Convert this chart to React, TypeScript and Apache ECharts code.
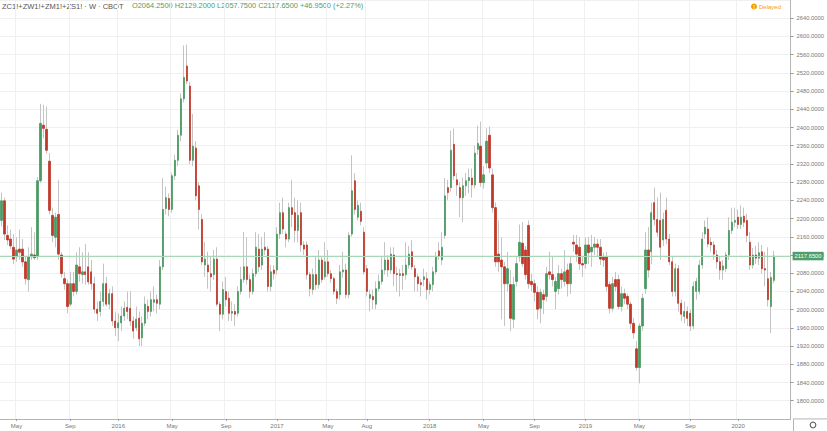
import React, { useEffect, useRef } from "react";
import * as echarts from "echarts";

// Weekly OHLC (first week: 2015-04-06)
const opens = [
  2196,2239,2163,2155,2137,2116,2133,2133,2105,2066,
  2116,2120,2116,2283,2405,2396,2326,2207,2159,2209,
  2120,2068,2057,2012,2057,2040,2094,2077,2083,2094,
  2083,2057,2001,1996,2018,2057,2012,2035,1975,1960,
  1971,1986,2005,2003,1975,1960,1981,1938,1970,2007,
  1996,2016,2022,2012,2094,2222,2244,2220,2294,2328,
  2383,2463,2535,2491,2328,2355,2272,2198,2098,2098,
  2079,2077,2111,2012,1990,2040,2025,1992,1996,1992,
  2040,2066,2094,2066,2040,2079,2133,2098,2137,2133,
  2051,2087,2087,2166,2213,2166,2155,2224,2213,2174,
  2213,2142,2142,2077,2044,2077,2055,2109,2072,2105,
  2079,2068,2040,2033,2083,2087,2033,2166,2283,2203,
  2216,2170,2090,2025,2029,2012,2046,2062,2087,2109,
  2087,2120,2079,2075,2079,2077,2098,2127,2090,
  2072,2059,2066,2068,2044,2055,2083,2129,2109,2163,
  2268,2268,2363,2285,2268,2246,2272,2283,2289,2274,
  2352,2359,2279,2322,2383,2296,2224,2122,2109,2094,
  2057,2055,1979,2062,2116,2146,2131,2185,2062,2057,
  2038,2003,2033,2029,2083,2077,2040,2046,2079,2062,
  2087,2057,2148,2142,2137,2101,2101,2142,2127,
  2137,2144,2137,2116,2116,2055,2003,2066,2066,
  2007,2035,2029,2012,1970,1914,1873,1964,2046,2131,
  2127,2235,2198,2196,2153,2218,2155,2105,2040,2090,
  2014,1985,1996,1992,1964,2040,2040,2098,2166,
  2177,2148,2142,2120,2105,2087,2090,2120,2174,
  2192,2203,2187,2205,2196,2148,2098,2120,2113,2127,
  2090,2068,2007,2064.25,
];
const highs = [
  2257,2246,2185,2176,2166,2159,2176,2155,2116,2137,
  2181,2170,2291,2452,2450,2446,2344,2224,2213,2285,
  2126,2083,2066,2083,2083,2126,2137,2126,2144,2126,
  2109,2072,2018,2040,2101,2072,2046,2051,1996,1992,
  2007,2018,2040,2040,1985,2007,1996,1985,2029,2022,
  2040,2051,2033,2109,2289,2270,2255,2300,2340,2395,
  2475,2580,2582,2500,2430,2370,2280,2210,2148,2127,
  2116,2131,2137,2018,2062,2072,2040,2018,2012,2051,
  2094,2170,2159,2077,2090,2170,2166,2159,2170,2140,
  2098,2098,2181,2235,2246,2172,2235,2285,2246,2240,
  2235,2150,2150,2083,2090,2116,2131,2116,2148,2131,
  2087,2072,2046,2098,2127,2101,2170,2339,2300,2240,
  2235,2181,2098,2044,2044,2062,2077,2116,2148,2120,
  2137,2137,2094,2090,2098,2148,2140,2153,2098,
  2079,2068,2090,2083,2062,2094,2127,2148,2170,2289,
  2285,2393,2398,2300,2280,2290,2300,2310,2310,2360,
  2404,2413,2315,2398,2402,2310,2235,2196,2159,2105,
  2127,2087,2072,2116,2187,2192,2140,2196,2079,2066,
  2051,2046,2044,2094,2127,2116,2072,2098,2090,2131,
  2101,2116,2164,2164,2159,2116,2159,2160,2164,
  2159,2155,2155,2125,2127,2062,2072,2083,2077,
  2051,2046,2035,2018,1981,1931,1970,2035,2170,2181,
  2235,2268,2246,2257,2213,2246,2166,2116,2101,2098,
  2022,2018,2007,2001,2062,2070,2109,2170,2196,
  2203,2159,2150,2131,2116,2109,2127,2203,2224,
  2224,2220,2229,2224,2211,2170,2135,2140,2148,2142,
  2127,2137,2083,2129.2,
];
const lows = [
  2183,2153,2142,2133,2100,2105,2109,2094,2055,2040,
  2109,2109,2109,2278,2376,2343,2209,2148,2137,2109,
  2070,2044,1992,2007,2029,2033,2061,2057,2055,2055,
  2044,1992,1975,1985,2007,2007,2001,1964,1942,1931,
  1953,1975,1979,1964,1936,1953,1920,1920,1964,1979,
  1985,1996,1992,2001,2087,2209,2205,2213,2285,2315,
  2370,2455,2495,2320,2315,2240,2176,2098,2072,2046,
  2040,2065,2007,1953,1979,2007,1975,1975,1964,1985,
  2033,2059,2055,2025,2033,2072,2083,2087,2120,2040,
  2040,2066,2077,2155,2166,2137,2148,2181,2148,2148,
  2127,2120,2066,2029,2033,2044,2046,2059,2066,2072,
  2059,2033,2012,2022,2070,2025,2025,2160,2209,2196,
  2185,2077,2029,1996,2001,2001,2040,2055,2077,2072,
  2079,2051,2040,2029,2044,2066,2090,2087,2040,
  2040,2029,2051,2022,2033,2040,2077,2109,2098,2155,
  2240,2259,2285,2250,2203,2192,2250,2255,2246,2266,
  2340,2270,2266,2310,2300,2213,2094,2083,1979,1964,
  2040,1953,1960,2051,2105,2094,2066,2046,2040,2018,
  1979,1970,1990,2018,2066,2051,2001,2033,2046,2051,
  2029,2035,2127,2105,2087,2072,2090,2100,2094,
  2120,2116,2098,2094,2040,1992,1996,2040,2001,
  1996,2012,2001,1957,1936,1866,1838,1953,2035,2070,
  2100,2185,2160,2109,2140,2144,2098,2029,2029,1996,
  1975,1970,1964,1953,1957,2022,2033,2090,2155,
  2137,2127,2109,2090,2066,2066,2083,2109,2166,
  2181,2177,2177,2181,2148,2087,2090,2100,2098,2079,
  2051,2007,1949,2057.75,
];
const closes = [
  2239,2166,2153,2140,2111,2131,2126,2105,2068,2116,
  2122,2114,2283,2409,2398,2350,2218,2163,2203,2122,
  2079,2057,2007,2057,2040,2098,2079,2083,2077,2061,
  2057,2001,1992,2018,2057,2012,2035,1975,1960,1971,
  1986,2003,1996,1975,1953,1979,1936,1970,2012,1996,
  2022,2022,2014,2094,2220,2246,2220,2294,2328,2383,
  2463,2510,2502,2328,2359,2250,2220,2105,2111,2083,
  2072,2111,2012,1990,2044,2022,1992,1996,1990,2040,
  2066,2094,2066,2040,2079,2137,2094,2133,2131,2051,
  2083,2079,2166,2213,2177,2155,2224,2209,2174,2207,
  2142,2133,2077,2046,2077,2055,2109,2066,2105,2079,
  2068,2040,2025,2083,2087,2033,2163,2261,2220,2229,
  2194,2083,2040,2033,2022,2046,2062,2087,2109,2087,
  2122,2079,2077,2079,2075,2098,2122,2094,2072,
  2057,2055,2072,2044,2055,2083,2116,2118,2137,2250,
  2257,2350,2294,2274,2246,2272,2283,2290,2274,2344,
  2365,2279,2296,2370,2311,2224,2105,2105,2094,2057,
  2090,1981,2055,2101,2148,2101,2077,2057,2055,2038,
  2001,2038,2022,2079,2077,2066,2062,2079,2066,2083,
  2057,2101,2144,2122,2101,2098,2142,2125,2137,
  2144,2137,2111,2109,2051,2003,2057,2051,2007,
  2035,2025,2012,1970,1949,1873,1964,2025,2131,2087,
  2213,2198,2170,2137,2198,2155,2105,2040,2090,2014,
  1990,1996,1981,1964,2051,2062,2098,2155,2181,
  2144,2142,2122,2105,2087,2096,2120,2174,2192,
  2196,2187,2203,2192,2163,2098,2120,2113,2125,2090,
  2087,2022,2070.7,2117.65,
];

const startDate = "2015-04-06";
const emptyWeeks = 5;
const tickIndex = [5, 23, 39, 57, 75, 92, 109, 122, 143, 161, 178, 195, 213, 230, 246];
const tickText = ["May", "Sep", "2016", "May", "Sep", "2017", "May", "Aug", "2018", "May", "Sep", "2019", "May", "Sep", "2020"];
const symbolTitle = "ZC1!+ZW1!+ZM1!+ZS1! · W · CBOT";

const FONT = "'Liberation Sans', Arial, sans-serif";
const UP = "#4a9a63";
const DOWN = "#c0392b";
const WICK = "#c4c4c4";

export default function App() {
  const ref = useRef<HTMLDivElement>(null);
  useEffect(() => {
    if (!ref.current) return;
    const chart = echarts.init(ref.current, undefined, { renderer: "svg" });

    const n = opens.length;
    const cats: string[] = [];
    const d0 = new Date(startDate + "T00:00:00Z").getTime();
    for (let i = 0; i < n + emptyWeeks; i++) {
      cats.push(new Date(d0 + i * 7 * 86400000).toISOString().slice(0, 10));
    }
    const tickMap = new Map<number, string>();
    tickIndex.forEach((t, k) => tickMap.set(t, tickText[k]));
    const isTick = (i: number) => tickMap.has(i);

    const wickData = opens.map((o, i) => [o, closes[i], lows[i], highs[i]]);
    const bodyData = opens.map((o, i) => [o, closes[i], Math.min(o, closes[i]), Math.max(o, closes[i])]);

    const last = n - 1;
    const lo = opens[last], hi = highs[last], ll = lows[last], lc = closes[last];
    const chg = lc - closes[last - 1];
    const pct = (chg / closes[last - 1]) * 100;
    const ohlcText = `O${lo.toFixed(4)} H${hi.toFixed(4)} L${ll.toFixed(4)} C${lc.toFixed(4)} ${chg >= 0 ? "+" : ""}${chg.toFixed(4)} (${chg >= 0 ? "+" : ""}${pct.toFixed(2)}%)`;

    const gridRight = 34;
    const plotRight = 827 - gridRight;
    const axisY = 431 - 12.07;

    chart.setOption({
      animation: false,
      backgroundColor: "#ffffff",
      textStyle: { fontFamily: FONT },
      grid: { left: 0, right: gridRight, top: -4.93, bottom: 12.07, containLabel: false },
      xAxis: {
        type: "category",
        data: cats,
        boundaryGap: true,
        axisLine: { show: true, lineStyle: { color: "#b5b5b5", width: 1 } },
        axisTick: { show: true, interval: (i: number) => isTick(i), alignWithLabel: true, length: 2, lineStyle: { color: "#9a9a9a" } },
        axisLabel: {
          interval: (i: number) => isTick(i),
          formatter: (_v: string, i: number) => tickMap.get(i) ?? "",
          fontSize: 6,
          color: "#777777",
          margin: 4,
          fontFamily: FONT,
        },
        splitLine: { show: true, interval: (i: number) => isTick(i), lineStyle: { color: "#f0f0f0", width: 1 } },
      },
      yAxis: {
        type: "value",
        position: "right",
        min: 1760,
        max: 2680,
        interval: 40,
        axisLine: { show: true, lineStyle: { color: "#b5b5b5" } },
        axisTick: { show: true, length: 3, lineStyle: { color: "#9a9a9a" } },
        axisLabel: {
          showMinLabel: false,
          showMaxLabel: false,
          formatter: (v: number) => v.toFixed(4),
          fontSize: 5.8,
          color: "#777777",
          margin: 6,
          fontFamily: FONT,
        },
        splitLine: { show: true, lineStyle: { color: "#f0f0f0", width: 1 } },
      },
      series: [
        {
          type: "candlestick",
          name: "wick",
          data: wickData,
          barWidth: 1,
          silent: true,
          itemStyle: { color: WICK, color0: WICK, borderColor: WICK, borderColor0: WICK, borderWidth: 1 },
        },
        {
          type: "candlestick",
          name: "body",
          data: bodyData,
          barWidth: 1.8,
          silent: true,
          itemStyle: { color: UP, color0: DOWN, borderColor: UP, borderColor0: DOWN, borderWidth: 0.8 },
          markLine: {
            silent: true,
            symbol: ["none", "none"],
            data: [{ yAxis: lc }],
            lineStyle: { color: "#a9d6b6", width: 1, type: "solid" },
            label: {
              show: true,
              position: "end",
              formatter: () => lc.toFixed(4),
              backgroundColor: "#4f9d69",
              color: "#ffffff",
              fontSize: 5.8,
              fontFamily: FONT,
              padding: [1.5, 2, 1, 2],
              distance: 2,
            },
          },
        },
      ],
      graphic: [
        { type: "text", left: 2, top: 2, style: { text: symbolTitle, fontSize: 7.5, fill: "#555555", fontFamily: FONT } },
        { type: "text", left: 132, top: 2, style: { text: ohlcText, fontSize: 7.4, fill: "#4f9d69", fontFamily: FONT } },
        { type: "circle", shape: { cx: 754, cy: 6.5, r: 3 }, style: { fill: "#ff9800" } },
        { type: "text", x: 754, y: 6.5, style: { text: "!", fontSize: 5, fill: "#ffffff", align: "center", verticalAlign: "middle", fontFamily: FONT, fontWeight: "bold" } },
        { type: "text", x: 759, y: 6.5, style: { text: "Delayed", fontSize: 6, fill: "#ff9800", verticalAlign: "middle", fontFamily: FONT } },
        { type: "line", shape: { x1: plotRight, y1: axisY, x2: 827, y2: axisY }, style: { stroke: "#b5b5b5", lineWidth: 1 } },
        { type: "line", shape: { x1: plotRight + 0.5, y1: axisY, x2: plotRight + 0.5, y2: 431 }, style: { stroke: "#b5b5b5", lineWidth: 1 } },
        { type: "circle", shape: { cx: 813, cy: 425, r: 2.8 }, style: { fill: "none", stroke: "#666666", lineWidth: 1.2 } },
      ],
    });
    return () => chart.dispose();
  }, []);
  return <div ref={ref} style={{ position: "fixed", left: 0, top: 0, width: 827, height: 431 }} />;
}
